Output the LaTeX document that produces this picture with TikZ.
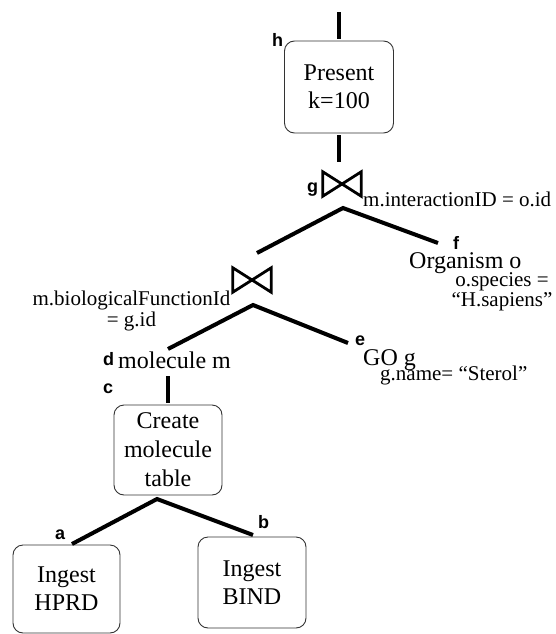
\documentclass[tikz,border=0pt]{standalone}
\usepackage{fontspec}
\setmainfont{Liberation Serif}
\newfontfamily\tagfont{Liberation Sans}
\usetikzlibrary{calc}
\tikzset{
  opbox/.style={draw=black!80, line width=0.9pt, rounded corners=10pt, align=center, inner sep=0pt},
  joinop/.style={minimum width=38pt, minimum height=24pt, inner sep=0pt},
  bowtie/.style={line width=2.8pt, line join=miter},
  edge/.style={line width=4pt},
  rel/.style={inner sep=0pt, anchor=base west},
  tag/.style={font=\tagfont\bfseries\fontsize{18}{18}\selectfont, inner sep=0pt, anchor=base west},
  cond/.style={font=\fontsize{21}{16}\selectfont, align=center, inner sep=0pt},
}
\begin{document}
\begin{tikzpicture}[x=1pt, y=-1pt, font=\fontsize{24}{28}\selectfont]
				\useasboundingbox (0,0) rectangle (555,634);
				% operators and relations
				\node[opbox, minimum width=109pt, minimum height=92pt] (present) at (339,87) {Present\\k=100};
				\node[joinop] (gj) at (342,184) {};
				\node[joinop] (bj) at (252,280) {};
				\node[rel] (org) at (409,268) {Organism o};
				\node[rel] (mol) at (118,368) {molecule m};
				\node[rel] (go) at (363,365) {GO g};
				\node[opbox, minimum width=108pt, minimum height=90pt, font=\fontsize{24}{29}\selectfont] (create) at (168,450) {Create\\molecule\\table};
				\node[opbox, minimum width=107pt, minimum height=88pt] (hprd) at (66.5,589) {Ingest\\HPRD};
				\node[opbox, minimum width=108pt, minimum height=91pt] (bind) at (252,582.5) {Ingest\\BIND};
				% join symbols
				\draw[bowtie] (gj.north west) -- (gj.south west) -- (gj.north east) -- (gj.south east) -- cycle;
				\draw[bowtie] (bj.north west) -- (bj.south west) -- (bj.north east) -- (bj.south east) -- cycle;
				% predicates
				\node[cond, anchor=base west] (gcond) at (363,206) {m.interactionID = o.id};
				\node[cond] (bcond) at (131.5,311) {m.biologicalFunctionId\\= g.id};
				\node[cond] (ocond) at (502,292) {o.species =\\“H.sapiens”};
				\node[cond, anchor=base west] (gocond) at (380,380) {g.name= “Sterol”};
				% plan edges
				\coordinate (out) at ([yshift=29pt]present.north);
				\draw[edge] ([yshift=2pt]present.north) -- (out);
				\draw[edge, shorten <=2pt, shorten >=10pt] (present.south) -- (present.south |- gj.north);
				\coordinate (gfork) at ($(gj)+(1,24)$);
				\draw[edge] ($(bj)+(5,-27)$) -- (gfork) -- ($(org.base west)+(29,-25)$);
				\coordinate (bfork) at ($(bj)+(1,25)$);
				\draw[edge] ($(mol.base west)+(50,-19)$) -- (bfork) -- ($(go.base west)+(-15,-22)$);
				\draw[edge] ($(mol.base west)+(50,8)$) -- ($(create.north)+(0,-2)$);
				\coordinate (cfork) at ($(create)+(-11,49)$);
				\draw[edge] ($(hprd)+(5.5,-45)$) -- (cfork) -- ($(bind)+(1,-47.5)$);
				% step letters
				\node[tag] (th) at (272,47) {h};
				\node[tag] (tg) at (307,192) {g};
				\node[tag] (tf) at (453,249) {f};
				\node[tag] (te) at (355,345) {e};
				\node[tag] (td) at (103,365) {d};
				\node[tag] (tc) at (103,393) {c};
				\node[tag] (tb) at (258,528) {b};
				\node[tag] (ta) at (55,539) {a};
\end{tikzpicture}
\end{document}
